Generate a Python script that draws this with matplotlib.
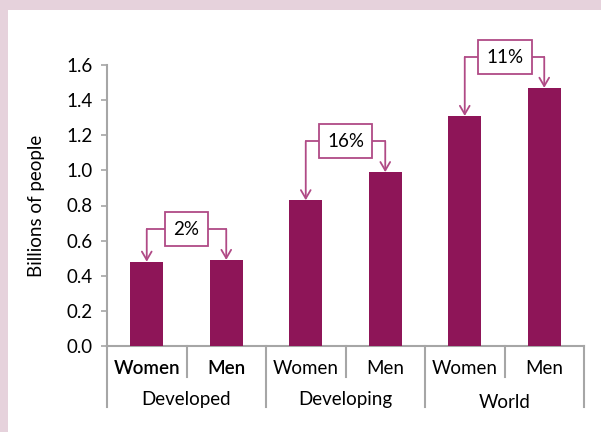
import matplotlib.pyplot as plt
import matplotlib.transforms as mtransforms
from matplotlib.lines import Line2D

# data
groups = ['Developed', 'Developing', 'World']
sexes = ['Women', 'Men']
women = [0.48, 0.83, 1.31]
men = [0.49, 0.99, 1.47]
gap_labels = ['2%', '16%', '11%']
yticks = [0.0, 0.2, 0.4, 0.6, 0.8, 1.0, 1.2, 1.4, 1.6]

bar_col = '#8E1558'
line_col = '#B04A86'
axis_col = '#A6A6A6'
pink = '#E6D2DC'
fs = 13.5

plt.rcParams['font.family'] = ['Lato', 'DejaVu Sans']

W, H = 601, 432
fig = plt.figure(figsize=(W / 100, H / 100), dpi=100, facecolor=pink)

# white panel inside the pink frame
bg = fig.add_axes([8 / W, 0, 1 - 8 / W, 1 - 10 / H], zorder=-1)
bg.set_facecolor('white')
bg.set_xticks([])
bg.set_yticks([])
for s in bg.spines.values():
    s.set_visible(False)

x0, x1 = 107, 584
ybase, ytop = 346, 65
ax = fig.add_axes([x0 / W, (H - ybase) / H, (x1 - x0) / W, (ybase - ytop) / H])
ax.set_facecolor('none')

xs = list(range(6))
vals = []
for w, m in zip(women, men):
    vals += [w, m]
ax.bar(xs, vals, width=0.42, color=bar_col, zorder=3)

ax.set_xlim(-0.5, 5.5)
ax.set_ylim(0, 1.6)
ax.set_yticks(yticks)
ax.set_yticklabels([f'{v:.1f}' for v in yticks], fontsize=fs)
ax.set_xticks([])
ax.set_ylabel('Billions of people', fontsize=fs, labelpad=16)
ax.tick_params(axis='y', length=4, width=1.2, color=axis_col, pad=6)
for s in ['top', 'right']:
    ax.spines[s].set_visible(False)
for s in ['left', 'bottom']:
    ax.spines[s].set_color(axis_col)
    ax.spines[s].set_linewidth(1.5)

# two-level category axis
tr = mtransforms.blended_transform_factory(ax.transData, ax.transAxes)
ah = ybase - ytop
for i, e in enumerate([-0.5, 0.5, 1.5, 2.5, 3.5, 4.5, 5.5]):
    depth = 61 if i % 2 == 0 else 31
    ax.add_line(Line2D([e, e], [0, -depth / ah], transform=tr, color=axis_col,
                       lw=1.5, clip_on=False))
for i, x in enumerate(xs):
    ax.text(x, -22 / ah, sexes[i % 2], transform=tr, ha='center', va='center',
            fontsize=fs, fontweight='semibold' if i < 2 else 'normal')
for g, name in enumerate(groups):
    dy = 57 if name == 'World' else 54
    ax.text(2 * g + 0.5, -dy / ah, name, transform=tr, ha='center', va='center',
            fontsize=fs)

# bracket annotations with percentage gap
for g in range(3):
    xw, xm = 2 * g, 2 * g + 1
    yb = max(women[g], men[g]) + 0.175
    xc = 2 * g + 0.5
    ax.plot([xw, xc], [yb, yb], color=line_col, lw=1.3, clip_on=False, zorder=2)
    ax.plot([xc, xm], [yb, yb], color=line_col, lw=1.3, clip_on=False, zorder=2)
    for xb, top in [(xw, women[g]), (xm, men[g])]:
        ax.annotate('', xy=(xb, top), xytext=(xb, yb),
                    arrowprops=dict(arrowstyle='->,head_length=0.6,head_width=0.35',
                                    color=line_col, lw=1.3, shrinkA=0, shrinkB=0),
                    annotation_clip=False)
    ax.text(xc, yb, gap_labels[g], ha='center', va='center', fontsize=fs,
            zorder=4, clip_on=False,
            bbox=dict(boxstyle='square,pad=0.45', facecolor='white',
                      edgecolor=line_col, lw=1.3))

fig.savefig('out.png', dpi=100, facecolor=pink)
